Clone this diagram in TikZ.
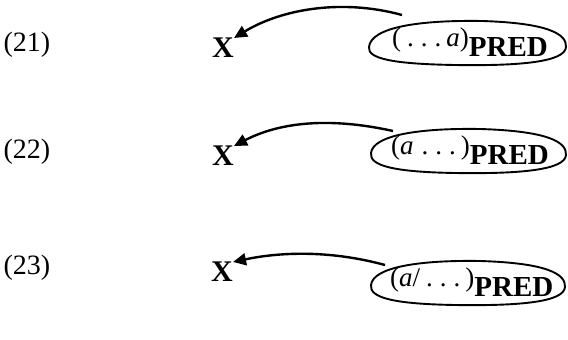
\documentclass[tikz,border=0pt]{standalone}
\usepackage{fontspec}
\setmainfont{Liberation Serif}
\usetikzlibrary{arrows.meta,shapes.geometric}
\newcommand{\predsub}{\raisebox{-10pt}{\fontsize{29}{29}\selectfont\bfseries PRED}}
\newcommand{\dotsthree}{.\hspace{7pt}.\hspace{7pt}.}
\begin{document}
\begin{tikzpicture}[x=1pt,y=-1pt,
  lab/.style={font=\fontsize{28}{32}\selectfont, anchor=center, inner sep=0pt},
  var/.style={font=\fontsize{30}{34}\selectfont\bfseries, inner sep=0pt},
  pred/.style={font=\fontsize{27}{30}\selectfont, inner sep=0pt, anchor=base west},
  loop/.style={line width=1.9pt},
  link/.style={line width=2.4pt, -{Triangle[length=13pt,width=12pt]}}
]
\useasboundingbox (0,0) rectangle (568,340);

% row (21)
\node[lab] (n1) at (27,45) {(21)};
\node[var] (x1) at (223,48) {X};
\node[pred] (p1) at (392,46) {(\hspace{6pt}\dotsthree\hspace{5pt}\textit{a})\predsub};
\draw[loop] (369,47) .. controls (371,27) and (420,20) .. (482,21)
  .. controls (548,23) and (567,34) .. (566,47)
  .. controls (565,62) and (520,66) .. (455,65)
  .. controls (395,64) and (367,59) .. (369,47) -- cycle;
\coordinate (s1) at (402,15);
\draw[link] (s1) .. controls (340,-2) and (280,10) .. (x1.north east);

% row (22)
\node[lab] (n2) at (27,152) {(22)};
\node[var] (x2) at (223,156) {X};
\node[pred] (p2) at (391,154) {(\textit{a}\hspace{8pt}\dotsthree\hspace{5pt})\predsub};
\draw[loop] (371,153) .. controls (373,135) and (420,128) .. (480,129)
  .. controls (548,131) and (567,142) .. (566,155)
  .. controls (565,170) and (520,174) .. (455,173)
  .. controls (395,172) and (369,166) .. (371,153) -- cycle;
\coordinate (s2) at (393,131);
\draw[link] (s2) .. controls (330,117) and (280,122) .. (x2.north east);

% row (23)
\node[lab] (n3) at (27,268) {(23)};
\node[var] (x3) at (222,272) {X};
\node[pred] (p3) at (390,286) {(\textit{a}/\hspace{6pt}\dotsthree\hspace{5pt})\predsub};
\draw[loop] (371,285) .. controls (373,267) and (420,260) .. (480,261)
  .. controls (547,263) and (566,274) .. (565,287)
  .. controls (564,302) and (520,306) .. (455,305)
  .. controls (395,304) and (369,298) .. (371,285) -- cycle;
\coordinate (s3) at (385,265);
\draw[link] (s3) .. controls (330,250) and (280,252) .. (x3.north east);
\end{tikzpicture}
\end{document}
